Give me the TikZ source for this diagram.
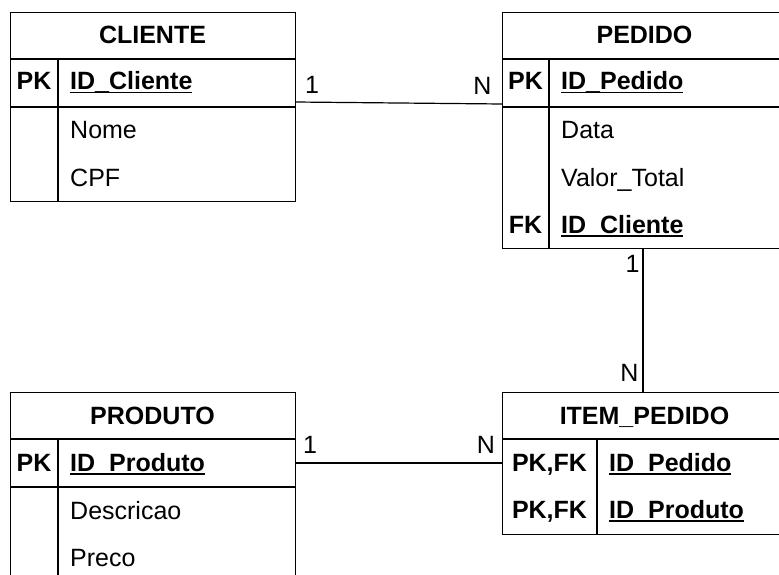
\documentclass[tikz,border=0pt]{standalone}
\usepackage{fontspec}
\setmainfont{Liberation Sans}
\newcommand\ulx[1]{\setbox0\hbox{#1}\rlap{\rule[-0.14em]{\wd0}{0.07em}}\box0}
\begin{document}
\begin{tikzpicture}[x=1pt,y=-1pt,
  tbl/.style={draw, line width=1.3pt, inner sep=0pt, anchor=north west},
  sep/.style={line width=1.3pt},
  ttl/.style={font=\bfseries\fontsize{25}{30}\selectfont, anchor=base, inner sep=0pt},
  key/.style={font=\bfseries\fontsize{25}{30}\selectfont, anchor=base, inner sep=0pt},
  fld/.style={font=\fontsize{25}{30}\selectfont, anchor=base west, inner sep=0pt},
  kfld/.style={font=\bfseries\fontsize{25}{30}\selectfont, anchor=base west, inner sep=0pt},
  card/.style={font=\fontsize{25}{30}\selectfont, anchor=base, inner sep=0pt},
  rel/.style={line width=1.2pt}]
\useasboundingbox (0,0) rectangle (779,575);
\clip (0,0) rectangle (779,575);
% CLIENTE
\node[tbl, minimum width=285pt, minimum height=189pt] (cliente) at (10,12) {};
\draw[sep] (10,59) -- (295,59);
\draw[sep] (10,107) -- (295,107);
\draw[sep] (58,59) -- (58,201);
\node[ttl] (cliT) at (152.5,44) {CLIENTE};
\node[key] (cliPK) at (34,90) {PK};
\node[kfld] (cliId) at (70,90) {\ulx{ID\_Cliente}};
\node[fld] (cliNome) at (70,139) {Nome};
\node[fld] (cliCPF) at (70,186.5) {CPF};
% PEDIDO
\node[tbl, minimum width=285pt, minimum height=236pt] (pedido) at (502,12) {};
\draw[sep] (502,59) -- (787,59);
\draw[sep] (502,107) -- (787,107);
\draw[sep] (549,59) -- (549,248);
\node[ttl] (pedT) at (644.5,44) {PEDIDO};
\node[key] (pedPK) at (525.5,90) {PK};
\node[kfld] (pedId) at (561,90) {\ulx{ID\_Pedido}};
\node[fld] (pedData) at (561,138.5) {Data};
\node[fld] (pedValor) at (561,186) {Valor\_Total};
\node[key] (pedFK) at (525.5,233) {FK};
\node[kfld] (pedCli) at (561,233) {\ulx{ID\_Cliente}};
% ITEM_PEDIDO
\node[tbl, minimum width=285pt, minimum height=142pt] (item) at (502,392) {};
\draw[sep] (502,439) -- (787,439);
\draw[sep] (597,439) -- (597,534);
\node[ttl] (itT) at (644.5,424.5) {ITEM\_PEDIDO};
\node[key] (itK1) at (549.5,471) {PK,FK};
\node[key] (itK2) at (549.5,518.5) {PK,FK};
\node[kfld] (itPed) at (609,471) {\ulx{ID\_Pedido}};
\node[kfld] (itProd) at (609,518.5) {\ulx{ID\_Produto}};
% PRODUTO
\node[tbl, minimum width=285pt, minimum height=200pt] (produto) at (10,392) {};
\draw[sep] (10,439) -- (295,439);
\draw[sep] (10,487) -- (295,487);
\draw[sep] (58,439) -- (58,592);
\node[ttl] (prT) at (152.5,424.5) {PRODUTO};
\node[key] (prPK) at (34,471) {PK};
\node[kfld] (prId) at (70,471) {\ulx{ID\_Produto}};
\node[fld] (prDesc) at (70,519) {Descricao};
\node[fld] (prPreco) at (70,566.5) {Preco};
% connectors
\coordinate (a1) at (295,102);
\coordinate (a2) at (502,104);
\draw[rel] (a1) -- (a2);
\node[card] (a1l) at (312,93.5) {1};
\node[card] (a2l) at (482.5,94.5) {N};
\coordinate (b1) at (643,248);
\coordinate (b2) at (643,392);
\draw[rel] (b1) -- (b2);
\node[card] (b1l) at (632.5,272) {1};
\node[card] (b2l) at (629.5,381.5) {N};
\coordinate (c1) at (295,463);
\coordinate (c2) at (502,463);
\draw[rel] (c1) -- (c2);
\node[card] (c1l) at (310,453) {1};
\node[card] (c2l) at (486,453) {N};
\end{tikzpicture}
\end{document}
